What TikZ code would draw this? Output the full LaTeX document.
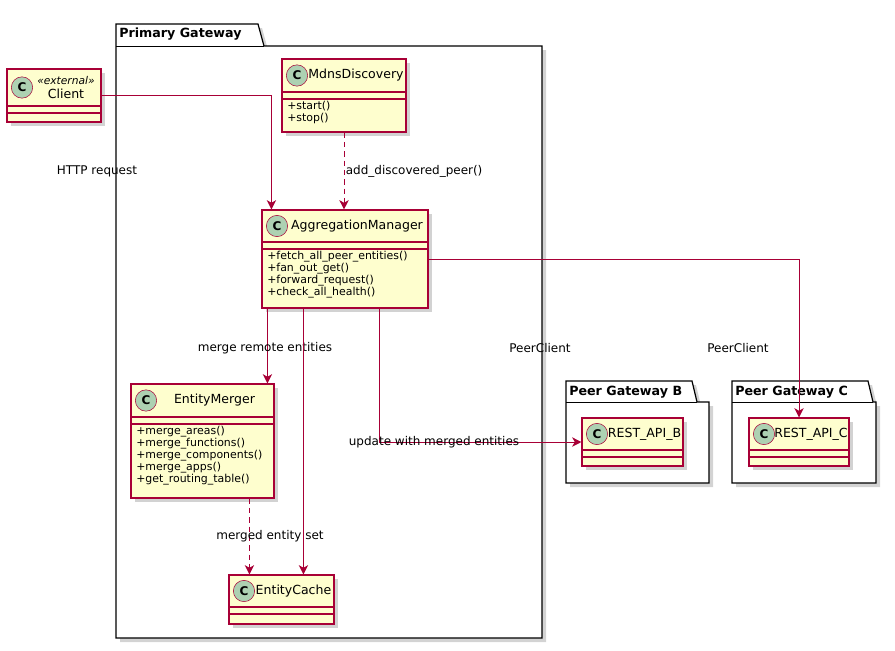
\documentclass[tikz,border=0pt]{standalone}
\usepackage{fontspec}
\setmainfont{DejaVu Sans}
\usetikzlibrary{positioning, calc, fit, shadows, arrows.meta}
\definecolor{umlred}{HTML}{A80036}
\definecolor{umlfill}{HTML}{FEFECE}
\definecolor{umlcirc}{HTML}{ADD1B2}
\tikzset{
  classbox/.style={draw=umlred, fill=umlfill, line width=0.8pt, inner sep=0pt,
    drop shadow={shadow xshift=3pt, shadow yshift=-3pt, opacity=0.35}},
  classline/.style={draw=umlred, line width=0.8pt},
  ccircle/.style={circle, draw=umlred, fill=umlcirc, minimum size=16pt, inner sep=0pt,
    font=\bfseries\fontsize{9}{9}\selectfont},
  methods/.style={anchor=north west, inner sep=0pt, align=left,
    font=\fontsize{8.2}{9}\selectfont},
  pkg/.style={draw=black, fill=white, line width=0.9pt,
    drop shadow={shadow xshift=3pt, shadow yshift=-3pt, opacity=0.35}},
  link/.style={draw=umlred, line width=0.75pt, -{Stealth[length=7pt, width=7pt, inset=2pt]}},
  dep/.style={link, dash pattern=on 4pt off 3pt},
  lbl/.style={text=black, font=\fontsize{9}{9}\selectfont, inner sep=1pt}
}
% class box: name, x1, y1, x2, y2, header bottom, title, methods
\newcommand{\umlclass}[8]{%
  \node[classbox, fit={(#2,#3)(#4,#5)}] (#1) {};
  \draw[classline] (#2,#6) -- (#4,#6) (#2,#6+7) -- (#4,#6+7);
  \node[ccircle] at (#2+15,{(#3+#6)/2}) {C};
  \node[font=\fontsize{9.4}{10}\selectfont, inner sep=0pt, align=center]
    at ({(#2+24+#4)/2},{(#3+#6)/2}) {#7};
  \node[methods] at (#2+5,#6+9) {#8};
}
\begin{document}
\begin{tikzpicture}[x=0.75pt, y=-0.75pt]
  \useasboundingbox (0,0) rectangle (895,650);

  %Packages
  \draw[pkg] (116,24) -- (258,24) -- (264,46) -- (542,46) -- (542,638) -- (116,638) -- cycle;
  \draw (116,46) -- (264,46);
  \node[anchor=west, font=\bfseries\fontsize{9.5}{10}\selectfont, inner sep=0pt] at (119,34) {Primary Gateway};
  \draw[pkg] (566,381) -- (692,381) -- (697,402) -- (709,402) -- (709,483) -- (566,483) -- cycle;
  \draw (566,402) -- (697,402);
  \node[anchor=west, font=\bfseries\fontsize{9.5}{10}\selectfont, inner sep=0pt] at (569,392) {Peer Gateway B};
  \draw[pkg] (732,381) -- (868,381) -- (873,402) -- (876,402) -- (876,483) -- (732,483) -- cycle;
  \draw (732,402) -- (873,402);
  \node[anchor=west, font=\bfseries\fontsize{9.5}{10}\selectfont, inner sep=0pt] at (735,392) {Peer Gateway C};

  %Classes
  \umlclass{Client}{7}{69}{101}{122}{106}{\textit{\fontsize{8}{9}\selectfont«external»}\\Client}{}
  \umlclass{MdnsDiscovery}{282}{59}{406}{132}{92}{MdnsDiscovery}{+start()\\+stop()}
  \umlclass{AggregationManager}{262}{210}{428}{308}{242}{AggregationManager}%
    {+fetch\_all\_peer\_entities()\\+fan\_out\_get()\\+forward\_request()\\+check\_all\_health()}
  \umlclass{EntityMerger}{131}{384}{274}{498}{417}{EntityMerger}%
    {+merge\_areas()\\+merge\_functions()\\+merge\_components()\\+merge\_apps()\\+get\_routing\_table()}
  \umlclass{EntityCache}{229}{575}{334}{624}{607}{EntityCache}{}
  \umlclass{RESTB}{582}{418}{683}{466}{450}{REST\_API\_B}{}
  \umlclass{RESTC}{749}{418}{849}{466}{450}{REST\_API\_C}{}

  %Links
  \draw[link] (Client.east) -| ($(AggregationManager.north west)+(10,0)$);
  \node[lbl] at (97,171) {HTTP request};
  \draw[dep] (MdnsDiscovery.south) -- (MdnsDiscovery.south |- AggregationManager.north)
    node[lbl, midway, right] {add\_discovered\_peer()};
  \draw[link] ($(AggregationManager.south west)+(6,0)$) coordinate (amA) -- (amA |- EntityMerger.north);
  \node[lbl] at (265,348) {merge remote entities};
  \draw[link] ($(AggregationManager.south west)+(42,0)$) coordinate (amB) -- (amB |- EntityCache.north);
  \draw[link] ($(AggregationManager.south west)+(118,0)$) |- (RESTB.west);
  \node[lbl] at (434,442) {update with merged entities};
  \node[lbl] at (540,348) {PeerClient};
  \draw[link] (AggregationManager.east) -| (RESTC.north);
  \node[lbl] at (738,348) {PeerClient};
  \draw[dep] ($(EntityMerger.south west)+(119,0)$) coordinate (emA) -- (emA |- EntityCache.north);
  \node[lbl] at (270,536) {merged entity set};
\end{tikzpicture}
\end{document}
